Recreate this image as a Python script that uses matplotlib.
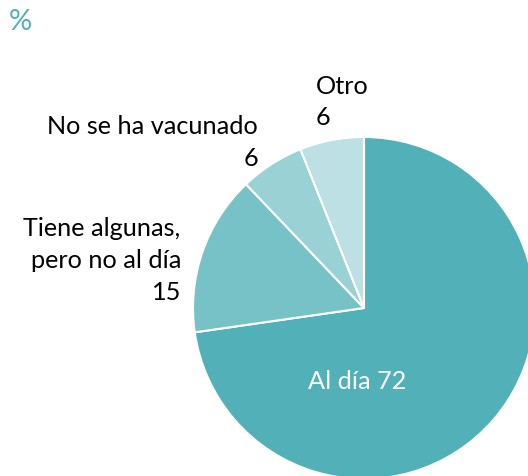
import matplotlib.pyplot as plt

# datos
categorias = ['Al día', 'Tiene algunas,\npero no al día', 'No se ha vacunado', 'Otro']
valores = [72, 15, 6, 6]
colores = ['#52b1b8', '#76c2c6', '#99d1d5', '#bce0e3']

plt.rcParams['font.family'] = ['Lato', 'DejaVu Sans']

W, H = 528, 476
fig = plt.figure(figsize=(W / 100, H / 100), dpi=100)
ax = fig.add_axes([0, 0, 1, 1])

# pie en coordenadas de pixel (eje y invertido -> counterclock=True gira en sentido horario en pantalla)
ax.pie(valores, colors=colores, startangle=-90, counterclock=True,
       center=(364, 308), radius=171, frame=True,
       wedgeprops=dict(edgecolor='white', linewidth=1.5))
ax.set_xlim(0, W)
ax.set_ylim(H, 0)
ax.axis('off')

fs = 18.2
ax.text(9, 30, '%', color='#52b1b8', fontsize=21, va='baseline', ha='left')

# Otro
ax.text(316, 94, categorias[3], fontsize=fs, va='baseline', ha='left')
ax.text(316, 125, str(valores[3]), fontsize=fs, va='baseline', ha='left')
# No se ha vacunado
ax.text(258, 134, categorias[2], fontsize=fs, va='baseline', ha='right')
ax.text(258, 166, str(valores[2]), fontsize=fs, va='baseline', ha='right')
# Tiene algunas
l1, l2 = categorias[1].split('\n')
ax.text(180, 236, l1, fontsize=fs, va='baseline', ha='right')
ax.text(181, 268, l2, fontsize=fs, va='baseline', ha='right')
ax.text(181, 300, str(valores[1]), fontsize=fs, va='baseline', ha='right')
# Al día
ax.text(357, 389, f'{categorias[0]} {valores[0]}', fontsize=fs, color='white',
        va='baseline', ha='center')

fig.savefig('out.png', dpi=100)
